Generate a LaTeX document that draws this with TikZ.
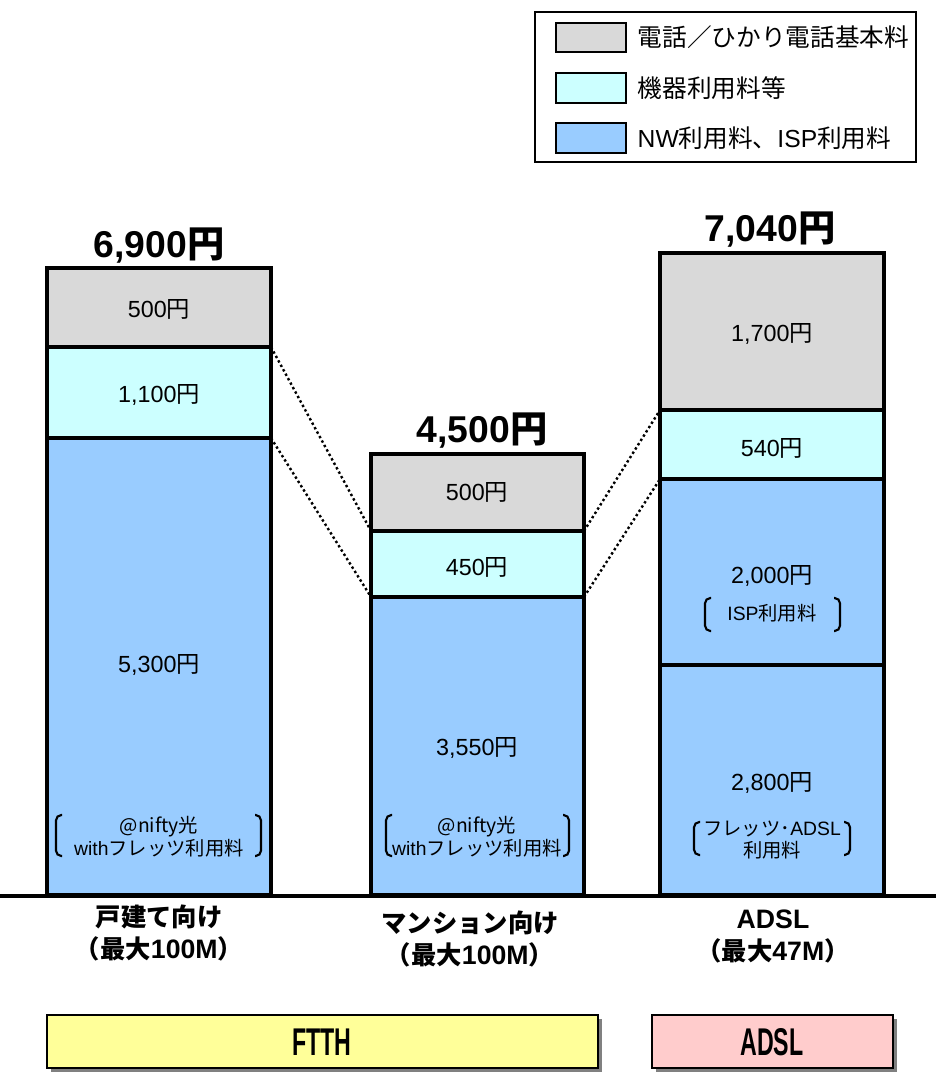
\documentclass[tikz,border=0pt]{standalone}
\usepackage{fontspec}
\setmainfont{Noto Sans CJK JP}
\newfontfamily\lat{Liberation Sans}

\definecolor{telgray}{HTML}{D9D9D9}
\definecolor{devcyan}{HTML}{CCFFFF}
\definecolor{nwblue}{HTML}{99CCFF}
\definecolor{ftthyellow}{HTML}{FFFF99}
\definecolor{adslpink}{HTML}{FFCCCC}

% brackets round the small notes: x, top, bottom
\newcommand{\openbr}[3]{\draw[brk] (#1+6,#2) -- (#1,#2) -- (#1,#3) -- (#1+6,#3);}
\newcommand{\closebr}[3]{\draw[brk] (#1-6,#2) -- (#1,#2) -- (#1,#3) -- (#1-6,#3);}

\tikzset{
  bar/.style={draw=black, line width=2.3pt},
  link/.style={dotted, line width=1.8pt},
  seglabel/.style={font=\fontsize{17.5}{20}\selectfont\lat},
  sublabel/.style={font=\fontsize{14.5}{17}\selectfont, align=center},
  total/.style={font=\fontsize{28}{30}\selectfont\lat\bfseries},
  cat/.style={font=\fontsize{19}{24}\selectfont\bfseries, align=center},
  lbl/.style={font=\fontsize{18.5}{22}\selectfont, anchor=west},
  swatch/.style={draw=black, line width=1.6pt},
  brk/.style={line width=1.6pt, rounded corners=4pt},
  group/.style={draw=black, line width=1.8pt},
  grouptext/.style={font=\fontsize{29}{30}\selectfont\lat\bfseries},
}

\begin{document}
\begin{tikzpicture}[x=0.75pt, y=-0.75pt]
\useasboundingbox (0,0) rectangle (936,1081);

% legend
\draw[line width=1.5pt] (535,12) rectangle (916,162);
\draw[swatch, fill=telgray] (556,23) rectangle (626,52);
\draw[swatch, fill=devcyan] (556,73) rectangle (626,103);
\draw[swatch, fill=nwblue] (556,123) rectangle (626,153);
\node[lbl] (legtel) at (633,37) {電話／ひかり電話基本料};
\node[lbl] (legdev) at (633,88) {機器利用料等};
\node[lbl] (legnw) at (633,138) {{\lat NW}利用料、{\lat ISP}利用料};

% bar 1 : FTTH house
\draw[bar, fill=nwblue] (47,438) rectangle (271,895);
\draw[bar, fill=devcyan] (47,347) rectangle (271,438);
\draw[bar, fill=telgray] (47,268) rectangle (271,347);
\coordinate (h1) at (271,347);
\coordinate (h2) at (271,438);
\node[total] (tothouse) at (159,246) {6,900{\rmfamily\bfseries 円}};
\node[seglabel] (h500) at (159,309) {500{\rmfamily 円}};
\node[seglabel] (h1100) at (159,395) {1,100{\rmfamily 円}};
\node[seglabel] (h5300) at (159,665) {5,300{\rmfamily 円}};
\node[sublabel] (hnote) at (159,837) {@nifty光\\{\lat with}フレッツ利用料};
\openbr{56}{815}{856}
\closebr{261}{815}{856}

% bar 2 : FTTH mansion
\draw[bar, fill=nwblue] (371,597) rectangle (584,895);
\draw[bar, fill=devcyan] (371,531) rectangle (584,597);
\draw[bar, fill=telgray] (371,454) rectangle (584,531);
\coordinate (m1l) at (371,531);
\coordinate (m2l) at (371,597);
\coordinate (m1r) at (584,531);
\coordinate (m2r) at (584,597);
\node[total] (totmans) at (482,431) {4,500{\rmfamily\bfseries 円}};
\node[seglabel] (m500) at (477,492) {500{\rmfamily 円}};
\node[seglabel] (m450) at (477,567) {450{\rmfamily 円}};
\node[seglabel] (m3550) at (477,748) {3,550{\rmfamily 円}};
\node[sublabel] (mnote) at (477,837) {@nifty光\\{\lat with}フレッツ利用料};
\openbr{386}{815}{856}
\closebr{569}{815}{856}

% bar 3 : ADSL
\draw[bar, fill=nwblue] (660,665) rectangle (884,895);
\draw[bar, fill=nwblue] (660,479) rectangle (884,665);
\draw[bar, fill=devcyan] (660,410) rectangle (884,479);
\draw[bar, fill=telgray] (660,253) rectangle (884,410);
\coordinate (a1) at (660,410);
\coordinate (a2) at (660,479);
\node[total] (totadsl) at (770,230) {7,040{\rmfamily\bfseries 円}};
\node[seglabel] (a1700) at (772,334) {1,700{\rmfamily 円}};
\node[seglabel] (a540) at (772,448) {540{\rmfamily 円}};
\node[seglabel] (a2000) at (772,576) {2,000{\rmfamily 円}};
\node[sublabel] (aisp) at (772,613) {{\lat ISP}利用料};
\openbr{705}{598}{631}
\closebr{840}{598}{631}
\node[seglabel] (a2800) at (772,783) {2,800{\rmfamily 円}};
\node[sublabel] (anote) at (772,840) {フレッツ･{\lat ADSL}\\利用料};
\openbr{694}{822}{855}
\closebr{850}{822}{855}

% dotted links
\draw[link] (h1) -- (m1l);
\draw[link] (h2) -- (m2l);
\draw[link] (m1r) -- (a1);
\draw[link] (m2r) -- (a2);

% ground line
\draw[line width=2.5pt] (0,896) -- (936,896);

% category labels
\node[cat] (cathouse) at (159,933) {戸建て向け\\（最大{\lat\fontsize{20}{24}\selectfont 100M}）};
\node[cat] (catmans) at (470,939) {マンション向け\\（最大{\lat\fontsize{20}{24}\selectfont 100M}）};
\node[cat] (catadsl) at (773,936) {{\lat\fontsize{20}{24}\selectfont ADSL}\\（最大{\lat\fontsize{20}{24}\selectfont 47M}）};

% group boxes
\fill[black!50] (51,1019) rectangle (602,1072);
\fill[black!50] (656,1019) rectangle (897,1072);
\draw[group, fill=ftthyellow] (47,1015) rectangle (598,1068);
\draw[group, fill=adslpink] (652,1015) rectangle (893,1068);
\node[grouptext] (ftth) at (322,1042) {\scalebox{0.6}[1]{FTTH}};
\node[grouptext] (adsl) at (772,1042) {\scalebox{0.6}[1]{ADSL}};

\end{tikzpicture}
\end{document}
